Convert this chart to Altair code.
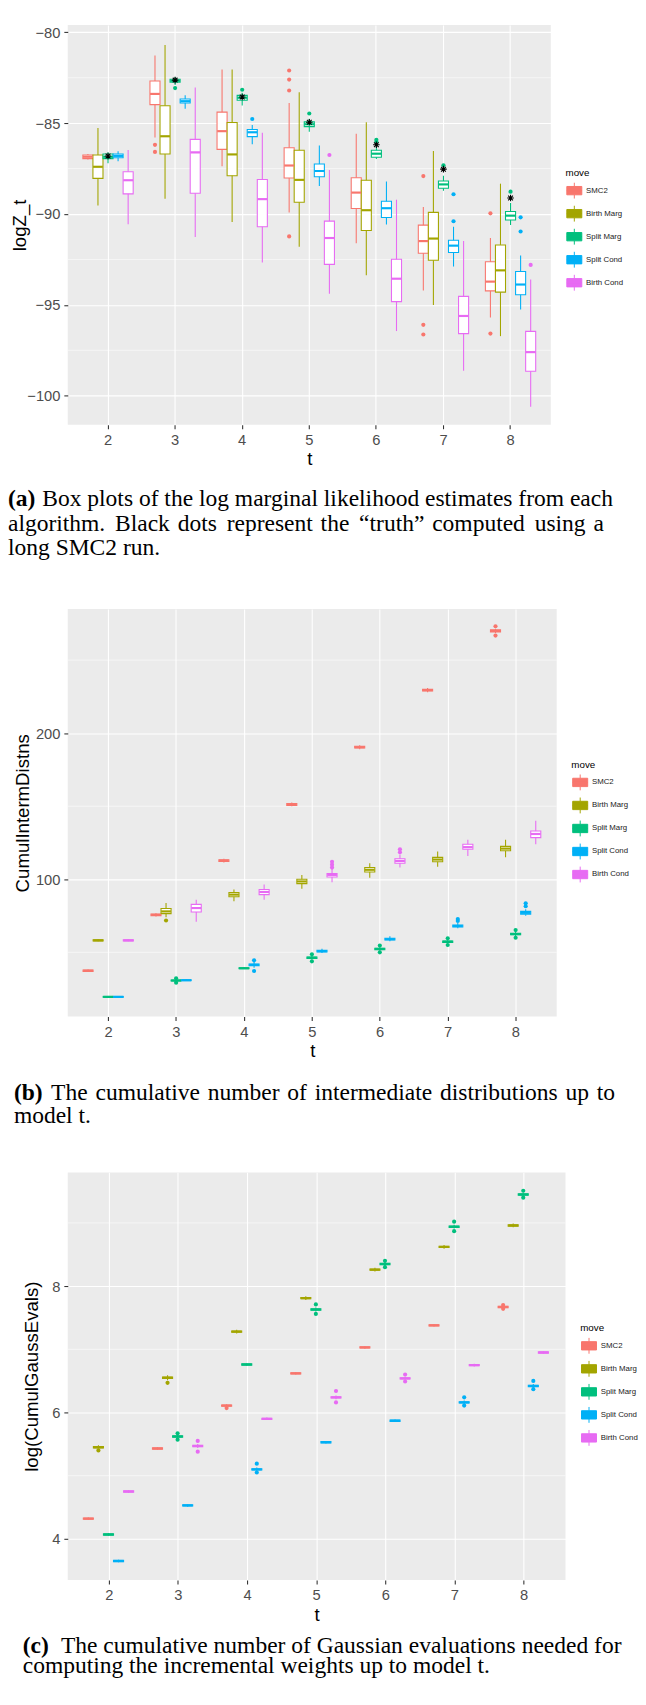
import altair as alt
import pandas as pd

T = [2, 3, 4, 5, 6, 7, 8]
MOVES = ["SMC2", "Birth Marg", "Split Marg", "Split Cond", "Birth Cond"]
COLORS = ["#F8766D", "#A3A500", "#00BF7D", "#00B0F6", "#E76BF3"]

# ---------------- panel (a): logZ_t ----------------
A_LO = {
    "SMC2":       [-87.00, -85.79, -87.37, -89.91, -91.61, -94.21, -95.70],
    "Birth Marg": [-89.53, -89.16, -90.44, -91.80, -93.37, -95.00, -96.72],
    "Split Marg": [-87.20, -82.90, -84.03, -85.47, -86.97, -88.72, -90.61],
    "Split Cond": [-87.10, -84.20, -86.16, -88.46, -90.58, -92.89, -95.26],
    "Birth Cond": [-90.56, -91.26, -92.67, -94.39, -96.44, -98.63, -100.60],
}
A_Q1 = {
    "SMC2":       [-86.95, -83.98, -86.44, -88.02, -89.70, -92.16, -94.23],
    "Birth Marg": [-88.04, -86.70, -87.89, -89.35, -90.91, -92.54, -94.30],
    "Split Marg": [-86.95, -82.75, -83.74, -85.19, -86.88, -88.58, -90.33],
    "Split Cond": [-86.90, -83.89, -85.74, -87.95, -90.19, -92.12, -94.44],
    "Birth Cond": [-88.89, -88.86, -90.70, -92.77, -94.82, -96.58, -98.65],
}
A_MED = {
    "SMC2":       [-86.85, -83.39, -85.44, -87.33, -88.82, -91.49, -93.72],
    "Birth Marg": [-87.40, -85.72, -86.72, -88.12, -89.79, -91.35, -93.10],
    "Split Marg": [-86.85, -82.67, -83.60, -85.06, -86.68, -88.37, -90.09],
    "Split Cond": [-86.80, -83.79, -85.50, -87.63, -89.68, -91.74, -93.88],
    "Birth Cond": [-88.14, -86.61, -89.18, -91.32, -93.56, -95.61, -97.60],
}
A_Q3 = {
    "SMC2":       [-86.75, -82.68, -84.39, -86.35, -88.00, -90.61, -92.63],
    "Birth Marg": [-86.75, -84.04, -84.96, -86.49, -88.14, -89.91, -91.70],
    "Split Marg": [-86.70, -82.58, -83.47, -84.93, -86.49, -88.18, -89.86],
    "Split Cond": [-86.70, -83.67, -85.35, -87.25, -89.30, -91.44, -93.16],
    "Birth Cond": [-87.67, -85.89, -88.10, -90.39, -92.49, -94.53, -96.46],
}
A_HI = {
    "SMC2":       [-86.70, -81.28, -82.05, -83.89, -85.58, -89.61, -91.32],
    "Birth Marg": [-85.26, -80.70, -82.05, -83.30, -84.95, -86.53, -88.33],
    "Split Marg": [-86.60, -82.46, -83.32, -84.75, -86.30, -87.90, -89.40],
    "Split Cond": [-86.55, -83.46, -85.10, -86.23, -88.21, -90.70, -92.28],
    "Birth Cond": [-86.47, -83.04, -85.53, -87.58, -89.21, -91.49, -93.60],
}
A_OUT = [
    ("SMC2", 3, -86.19), ("SMC2", 3, -86.58),
    ("SMC2", 5, -82.10), ("SMC2", 5, -82.60), ("SMC2", 5, -83.20), ("SMC2", 5, -91.23),
    ("SMC2", 7, -87.91), ("SMC2", 7, -96.10), ("SMC2", 7, -96.63),
    ("SMC2", 8, -89.96), ("SMC2", 8, -96.58),
    ("Split Marg", 3, -83.07), ("Split Marg", 4, -83.16), ("Split Marg", 5, -84.47),
    ("Split Marg", 6, -85.91), ("Split Marg", 6, -86.02), ("Split Marg", 7, -87.32),
    ("Split Marg", 8, -88.77),
    ("Split Cond", 4, -84.77), ("Split Cond", 7, -88.91), ("Split Cond", 7, -90.40),
    ("Split Cond", 8, -90.18), ("Split Cond", 8, -90.96),
    ("Birth Cond", 5, -86.75), ("Birth Cond", 8, -92.80),
]
A_TRUTH = [-86.81, -82.63, -83.56, -84.95, -86.19, -87.53, -89.12]
A_MAJOR = [-100, -95, -90, -85, -80]
A_MINOR = [-97.5, -92.5, -87.5, -82.5]

# ---------------- panel (b): CumulIntermDistns ----------------
B_LO = {
    "SMC2":       [36.5, 74.5, 111.5, 150.0, 189.0, 228.0, 268.5],
    "Birth Marg": [57.5, 74.0, 85.0, 93.5, 101.0, 108.5, 115.0],
    "Split Marg": [19.0, 30.0, 38.5, 45.0, 51.0, 56.0, 61.0],
    "Split Cond": [19.0, 30.3, 39.5, 49.5, 57.5, 66.5, 75.0],
    "Birth Cond": [57.5, 70.9, 86.0, 98.0, 108.0, 116.0, 124.0],
}
B_Q1 = {
    "SMC2":       [36.9, 75.0, 112.2, 150.6, 189.8, 228.9, 269.3],
    "Birth Marg": [57.8, 76.5, 88.0, 97.0, 105.0, 112.0, 119.5],
    "Split Marg": [19.2, 30.4, 38.8, 45.8, 51.8, 56.8, 62.0],
    "Split Cond": [19.2, 30.6, 40.8, 50.2, 58.5, 67.3, 76.0],
    "Birth Cond": [57.8, 77.6, 89.5, 101.5, 111.0, 120.5, 128.5],
}
B_MED = {
    "SMC2":       [37.4, 75.6, 112.8, 151.2, 190.4, 229.5, 270.0],
    "Birth Marg": [58.2, 78.0, 89.5, 98.5, 106.5, 113.5, 121.0],
    "Split Marg": [19.5, 30.7, 39.1, 46.3, 52.3, 57.3, 62.5],
    "Split Cond": [19.5, 30.9, 41.4, 50.8, 59.0, 68.0, 77.0],
    "Birth Cond": [58.2, 80.3, 91.3, 103.0, 112.5, 122.0, 131.0],
}
B_Q3 = {
    "SMC2":       [37.9, 76.2, 113.4, 151.8, 191.0, 230.1, 270.7],
    "Birth Marg": [58.6, 80.0, 91.0, 100.0, 108.0, 115.0, 122.5],
    "Split Marg": [19.8, 31.0, 39.4, 46.8, 52.8, 57.8, 63.0],
    "Split Cond": [19.8, 31.2, 42.0, 51.4, 59.6, 68.7, 78.0],
    "Birth Cond": [58.6, 82.8, 93.0, 104.0, 114.0, 124.0, 133.0],
}
B_HI = {
    "SMC2":       [38.3, 76.7, 114.0, 152.5, 191.8, 231.0, 271.5],
    "Birth Marg": [59.0, 83.7, 93.0, 103.0, 111.0, 119.0, 127.0],
    "Split Marg": [20.0, 31.4, 39.7, 47.5, 53.5, 58.5, 64.0],
    "Split Cond": [20.0, 31.5, 43.5, 52.5, 61.0, 70.0, 79.5],
    "Birth Cond": [59.0, 85.9, 96.5, 107.0, 117.0, 127.0, 140.0],
}
B_OUT = [
    ("SMC2", 8, 266.8), ("SMC2", 8, 273.2),
    ("Birth Marg", 3, 71.8),
    ("Split Marg", 3, 29.2), ("Split Marg", 3, 32.2), ("Split Marg", 5, 43.8), ("Split Marg", 5, 48.6),
    ("Split Marg", 6, 50.0), ("Split Marg", 6, 54.6), ("Split Marg", 7, 55.0), ("Split Marg", 7, 59.6),
    ("Split Marg", 8, 60.0), ("Split Marg", 8, 65.2),
    ("Split Cond", 4, 37.2), ("Split Cond", 4, 44.5), ("Split Cond", 7, 71.5), ("Split Cond", 7, 72.8),
    ("Split Cond", 8, 81.5), ("Split Cond", 8, 83.5),
    ("Birth Cond", 5, 108.0), ("Birth Cond", 5, 110.0), ("Birth Cond", 5, 112.0),
    ("Birth Cond", 6, 118.5), ("Birth Cond", 6, 120.5),
]
B_MAJOR = [100, 200]
B_MINOR = [50, 150, 250]

# ---------------- panel (c): log(CumulGaussEvals) ----------------
C_LO = {
    "SMC2":       [4.30, 5.41, 6.09, 6.60, 7.01, 7.36, 7.65],
    "Birth Marg": [5.43, 6.51, 7.25, 7.78, 8.23, 8.59, 8.93],
    "Split Marg": [4.05, 5.59, 6.74, 7.60, 8.32, 8.91, 9.42],
    "Split Cond": [3.63, 4.51, 5.07, 5.51, 5.85, 6.13, 6.39],
    "Birth Cond": [4.73, 5.44, 5.88, 6.21, 6.52, 6.73, 6.93],
}
C_Q1 = {
    "SMC2":       [4.31, 5.42, 6.10, 6.61, 7.02, 7.37, 7.66],
    "Birth Marg": [5.44, 6.54, 7.27, 7.80, 8.25, 8.61, 8.95],
    "Split Marg": [4.06, 5.61, 6.75, 7.62, 8.34, 8.93, 9.44],
    "Split Cond": [3.64, 4.52, 5.09, 5.52, 5.86, 6.15, 6.41],
    "Birth Cond": [4.74, 5.46, 5.89, 6.23, 6.53, 6.74, 6.94],
}
C_MED = {
    "SMC2":       [4.32, 5.43, 6.11, 6.62, 7.03, 7.38, 7.67],
    "Birth Marg": [5.45, 6.55, 7.28, 7.81, 8.26, 8.62, 8.96],
    "Split Marg": [4.07, 5.62, 6.76, 7.63, 8.35, 8.94, 9.45],
    "Split Cond": [3.65, 4.53, 5.10, 5.53, 5.87, 6.16, 6.42],
    "Birth Cond": [4.75, 5.47, 5.90, 6.24, 6.54, 6.75, 6.95],
}
C_Q3 = {
    "SMC2":       [4.33, 5.44, 6.12, 6.63, 7.04, 7.39, 7.68],
    "Birth Marg": [5.46, 6.56, 7.29, 7.82, 8.27, 8.63, 8.97],
    "Split Marg": [4.08, 5.63, 6.77, 7.64, 8.36, 8.95, 9.46],
    "Split Cond": [3.66, 4.54, 5.11, 5.54, 5.88, 6.17, 6.43],
    "Birth Cond": [4.76, 5.48, 5.91, 6.25, 6.55, 6.76, 6.96],
}
C_HI = {
    "SMC2":       [4.34, 5.45, 6.13, 6.64, 7.05, 7.40, 7.69],
    "Birth Marg": [5.48, 6.59, 7.31, 7.84, 8.29, 8.65, 8.99],
    "Split Marg": [4.09, 5.65, 6.78, 7.66, 8.38, 8.97, 9.48],
    "Split Cond": [3.67, 4.55, 5.13, 5.55, 5.89, 6.19, 6.45],
    "Birth Cond": [4.77, 5.50, 5.92, 6.27, 6.56, 6.77, 6.97],
}
C_OUT = [
    ("SMC2", 4, 6.07), ("SMC2", 8, 7.64), ("SMC2", 8, 7.70),
    ("Birth Marg", 2, 5.40), ("Birth Marg", 3, 6.47),
    ("Split Marg", 3, 5.57), ("Split Marg", 3, 5.67), ("Split Marg", 5, 7.56), ("Split Marg", 5, 7.71),
    ("Split Marg", 6, 8.30), ("Split Marg", 6, 8.40), ("Split Marg", 7, 8.87), ("Split Marg", 7, 9.02),
    ("Split Marg", 8, 9.40), ("Split Marg", 8, 9.51),
    ("Split Cond", 4, 5.05), ("Split Cond", 4, 5.19), ("Split Cond", 7, 6.11), ("Split Cond", 7, 6.24),
    ("Split Cond", 8, 6.37), ("Split Cond", 8, 6.50),
    ("Birth Cond", 3, 5.38), ("Birth Cond", 3, 5.55), ("Birth Cond", 5, 6.16), ("Birth Cond", 5, 6.34),
    ("Birth Cond", 6, 6.49), ("Birth Cond", 6, 6.60),
]
C_MAJOR = [4, 6, 8]
C_MINOR = [5, 7, 9]

# captions (a few hair / six-per-em spaces imitate the justified lines)
HS = "\u200A"
SX = "\u2006"
_words_a2 = "algorithm. Black dots represent the \u201ctruth\u201d computed using a".split(" ")
CAP_A = ["(a)",
         "Box plots of the log marginal likelihood estimates from each",
         "".join(w + (" " + (SX if k % 2 == 0 else HS) if k < len(_words_a2) - 1 else "")
                 for k, w in enumerate(_words_a2)),
         "long SMC2 run."]
CAP_B = ["(b)",
         (" " + HS).join("The cumulative number of intermediate distributions up to".split(" ")),
         "model t."]
CAP_C = ["(c)",
         "The cumulative number of Gaussian evaluations needed for",
         "computing the incremental weights up to model t."]

BOX_PATH = "M-0.9,-0.5H0.9V0.5H-0.9Z M-0.9,0H0.9 M0,-0.5V-0.95 M0,0.5V0.95"
STAR_PATH = "M-1,0L1,0M0,-1L0,1M-0.72,-0.72L0.72,0.72M-0.72,0.72L0.72,-0.72"
SANS = "Liberation Sans"
SERIF = "Liberation Serif"
PAGE_LEFT = 8
LEGEND_PAGE_X = 577


def stats_frame(lo, q1, med, q3, hi):
    rows = []
    for m in MOVES:
        for i, t in enumerate(T):
            rows.append({"t": t, "move": m, "mf": m, "lo": lo[m][i], "q1": q1[m][i],
                         "med": med[m][i], "q3": q3[m][i], "hi": hi[m][i]})
    return pd.DataFrame(rows)


def outlier_frame(outs):
    return pd.DataFrame([{"t": t, "move": m, "mf": m, "value": v} for (m, t, v) in outs])


def text_layer(txt, x, y, bold=False, opacity=1):
    return alt.Chart(pd.DataFrame({"txt": [txt]})).mark_text(
        align="left", baseline="middle", font=SERIF, fontSize=24, opacity=opacity,
        fontWeight="bold" if bold else "normal", color="black"
    ).encode(text="txt:N", x=alt.value(x), y=alt.value(y))


def panel(stats, outs, ytitle, domain, majors, minors, width, height, plot_left,
          title_base, caption, cap_y, first_x, legend_y, spacer=None, truth=None):
    xs = alt.Scale(type="band", paddingInner=0.25, paddingOuter=0.225)
    xaxis = alt.Axis(title="t", labelAngle=0, grid=True, bandPosition=0.5,
                     labelPadding=4, titlePadding=3)
    X = alt.X("t:O", scale=xs, axis=xaxis)
    XO = alt.XOffset("move:N", scale=alt.Scale(domain=MOVES, paddingInner=0, paddingOuter=0))
    ysc = alt.Scale(domain=domain, nice=False, zero=False)
    yaxis = alt.Axis(title=ytitle, values=majors, grid=True, labelPadding=4,
                     titleX=title_base - plot_left, titleY=height / 2, titleAngle=270,
                     titleAlign="center", titleBaseline="alphabetic")
    sscale = alt.Scale(domain=MOVES, range=COLORS)
    legend = alt.Legend(title="move", orient="none", legendX=LEGEND_PAGE_X - plot_left,
                        legendY=legend_y, symbolType=BOX_PATH, symbolSize=289,
                        symbolStrokeWidth=1.0, symbolFillColor="white", labelFontSize=8,
                        labelFont=SANS, titleFontSize=10, titleFont=SANS,
                        titleFontWeight="normal", titlePadding=4, rowPadding=1.5,
                        labelOffset=3, padding=0, labelColor="#1A1A1A", titleColor="black")
    S = alt.Stroke("move:N", scale=sscale, legend=None)
    SL = alt.Stroke("move:N", scale=sscale, legend=legend)
    F = alt.Fill("mf:N", scale=sscale, legend=None)

    minor = alt.Chart(pd.DataFrame({"v": minors})).mark_rule(
        color="white", strokeWidth=0.55
    ).encode(y=alt.Y("v:Q", scale=ysc, axis=yaxis))

    base = alt.Chart(stats)
    key = base.mark_point(shape=BOX_PATH, filled=False, size=0,
                          strokeWidth=1.0, opacity=1).encode(
        x=X, xOffset=XO, y=alt.Y("med:Q", scale=ysc, axis=yaxis), stroke=SL)
    whisk = base.mark_rule(strokeWidth=1.1).encode(
        x=X, xOffset=XO, y=alt.Y("lo:Q", scale=ysc, axis=yaxis), y2="hi:Q", stroke=S)
    box = base.mark_bar(fill="white", strokeWidth=1.1).encode(
        x=X, xOffset=XO, y=alt.Y("q1:Q", scale=ysc, axis=yaxis), y2="q3:Q", stroke=S)
    med = base.mark_tick(thickness=2.2, size=10, opacity=1).encode(
        x=X, xOffset=XO, y=alt.Y("med:Q", scale=ysc, axis=yaxis), fill=F)
    pts = alt.Chart(outs).mark_circle(size=18, opacity=1).encode(
        x=X, xOffset=XO, y=alt.Y("value:Q", scale=ysc, axis=yaxis), fill=F)

    layers = [minor, key, whisk, box, med, pts]
    if truth is not None:
        tdf = pd.DataFrame({"t": T, "truth": truth})
        layers.append(alt.Chart(tdf).mark_point(
            shape=STAR_PATH, filled=False, stroke="black", strokeWidth=1.1, size=45, opacity=1
        ).encode(x=X, y=alt.Y("truth:Q", scale=ysc, axis=yaxis)))

    cap_x = PAGE_LEFT - plot_left
    layers.append(text_layer(caption[0], cap_x, cap_y[0], bold=True))
    layers.append(text_layer(caption[1], first_x - plot_left, cap_y[0]))
    for k, line in enumerate(caption[2:]):
        layers.append(text_layer(line, cap_x, cap_y[k + 1]))
    if spacer is not None:
        layers.append(text_layer(".", cap_x, spacer, opacity=0))

    return alt.layer(*layers).properties(width=width, height=height)


pa = panel(stats_frame(A_LO, A_Q1, A_MED, A_Q3, A_HI), outlier_frame(A_OUT), "logZ_t",
           [-101.6, -79.6], A_MAJOR, A_MINOR, 493, 408, 69, 26,
           CAP_A, [484, 509, 534], 43, 146, spacer=539, truth=A_TRUTH)

pb = panel(stats_frame(B_LO, B_Q1, B_MED, B_Q3, B_HI), outlier_frame(B_OUT), "CumulIntermDistns",
           [6, 285], B_MAJOR, B_MINOR, 499, 416, 63, 23,
           CAP_B, [494, 518], 46, 154)

pc = panel(stats_frame(C_LO, C_Q1, C_MED, C_Q3, C_HI), outlier_frame(C_OUT), "log(CumulGaussEvals)",
           [3.35, 9.8], C_MAJOR, C_MINOR, 508, 416, 54, 23,
           CAP_C, [484, 504], 47, 154)

chart = alt.concat(pa, pb, pc, columns=1, spacing=45, align="none").resolve_scale(
    stroke="independent", fill="independent"
).resolve_legend(stroke="independent").properties(
    padding=0
).configure_view(fill="#EBEBEB", stroke=None).configure_axis(
    gridColor="white", gridWidth=1.1, domain=False, tickColor="#333333", tickWidth=1.1,
    tickSize=4, labelFont=SANS, labelFontSize=15, labelColor="#4D4D4D",
    titleFont=SANS, titleFontSize=19, titleFontWeight="normal", titleColor="black"
)

chart.save("out.html", embed_options={"renderer": "svg", "actions": False})
